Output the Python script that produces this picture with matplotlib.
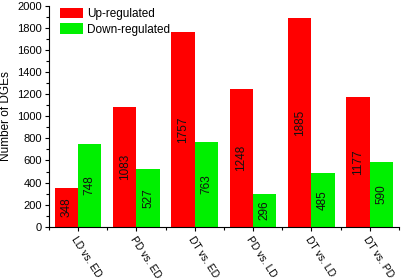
import matplotlib
matplotlib.use("Agg")
import matplotlib.pyplot as plt
import numpy as np
from matplotlib.ticker import MultipleLocator

plt.rcParams["font.family"] = ["Liberation Sans", "DejaVu Sans"]

# Karşılaştırma grupları ve DGE sayıları
gruplar = ["LD vs. ED", "PD vs. ED", "DT vs. ED", "PD vs. LD", "DT vs. LD", "DT vs. PD"]
up = [348, 1083, 1757, 1248, 1885, 1177]
down = [748, 527, 763, 296, 485, 590]

fig = plt.figure(figsize=(4.01, 2.8), dpi=100)
ax = fig.add_axes([0.122, 0.19, 0.873, 0.79])

x = np.arange(len(gruplar))
w = 0.4
b1 = ax.bar(x - w / 2, up, w, color="#ff0000", label="Up-regulated")
b2 = ax.bar(x + w / 2, down, w, color="#00f000", label="Down-regulated")

# değerleri çubukların ortasına yaz
for bars, vals in [(b1, up), (b2, down)]:
    for r, v in zip(bars, vals):
        ax.text(r.get_x() + r.get_width() / 2, v / 2, str(v), rotation=90,
                ha="center", va="center", fontsize=8.5, color="#111111")

ax.set_xlim(-0.5, len(gruplar) - 0.5)
ax.set_ylim(0, 2000)
ax.set_xticks(x)
ax.set_xticklabels(gruplar, rotation=-57, ha="left", va="top",
                   rotation_mode="anchor", fontsize=7.5)
ax.set_xticks(np.arange(len(gruplar) + 1) - 0.5, minor=True)
ax.yaxis.set_major_locator(MultipleLocator(200))
ax.yaxis.set_minor_locator(MultipleLocator(100))
ax.tick_params(axis="y", labelsize=8, length=3, width=0.8, pad=2)
ax.tick_params(axis="x", length=3, width=0.8, pad=3)
ax.tick_params(which="minor", length=2, width=0.8)
ax.set_ylabel("Number of DGEs", fontsize=8.5)
ax.yaxis.set_label_coords(-0.105, 0.5)
ax.spines["top"].set_visible(False)
ax.spines["right"].set_visible(False)

ax.legend(loc="upper left", bbox_to_anchor=(0.01, 1.02), frameon=False,
          fontsize=8.5, handlelength=2.0, handleheight=0.95, borderaxespad=0.2,
          labelspacing=0.25, handletextpad=0.3)

fig.savefig("out.png", dpi=100)
